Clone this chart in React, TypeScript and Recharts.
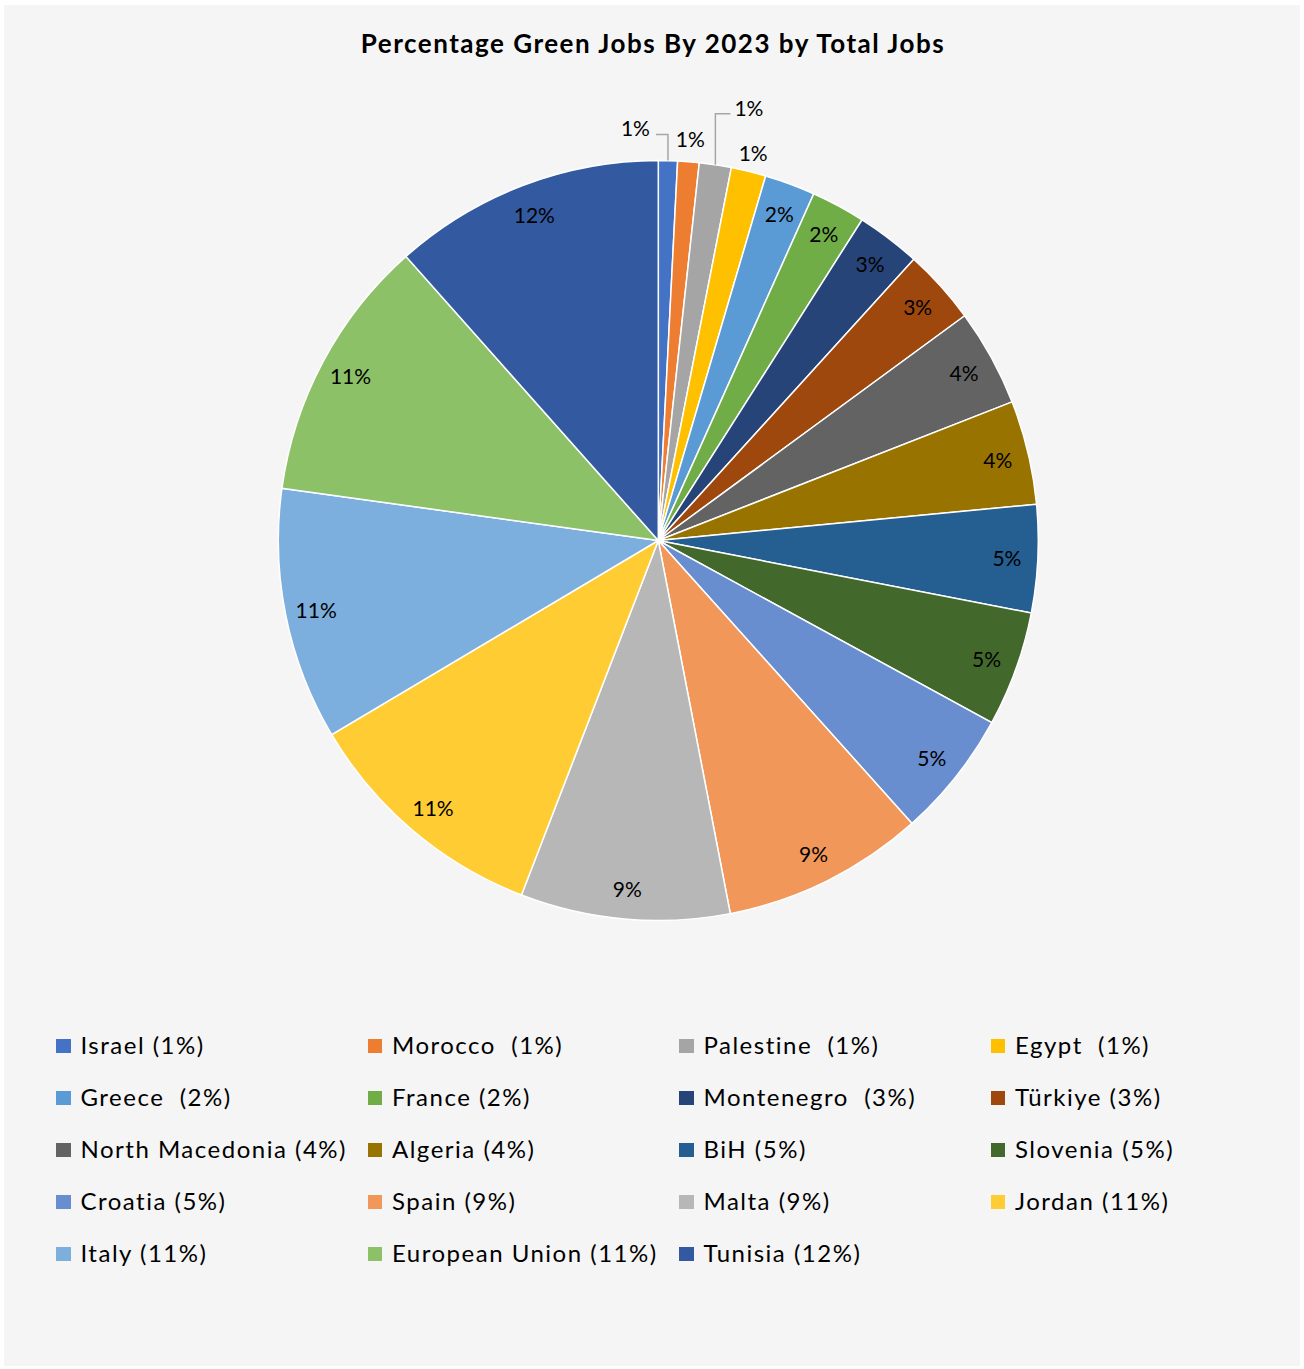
import React from "react";
import { PieChart, Pie, Cell, Legend } from "recharts";

const countries = [
  "Israel", "Morocco", "Palestine", "Egypt", "Greece", "France", "Montenegro", "Türkiye",
  "North Macedonia", "Algeria", "BiH", "Slovenia", "Croatia", "Spain", "Malta", "Jordan",
  "Italy", "European Union", "Tunisia",
];
const legendLabels = [
  "Israel (1%)", "Morocco  (1%)", "Palestine  (1%)", "Egypt  (1%)", "Greece  (2%)", "France (2%)",
  "Montenegro  (3%)", "Türkiye (3%)", "North Macedonia (4%)", "Algeria (4%)", "BiH (5%)",
  "Slovenia (5%)", "Croatia (5%)", "Spain (9%)", "Malta (9%)", "Jordan (11%)", "Italy (11%)",
  "European Union (11%)", "Tunisia (12%)",
];
const shares = [
  0.81, 0.91, 1.36, 1.48, 2.15, 2.3, 2.73, 3.19, 4.13, 4.42, 4.58, 4.9, 5.41, 8.6, 8.9, 10.6,
  10.73, 11.25, 11.56,
];
const colors = [
  "#4472C4", "#ED7D31", "#A5A5A5", "#FFC000", "#5B9BD5", "#70AD47", "#264478", "#9E480E",
  "#636363", "#997300", "#255E91", "#43682B", "#698ED0", "#F1975A", "#B7B7B7", "#FFCD33",
  "#7CAFDD", "#8CC168", "#335AA1",
];

const data = countries.map((name, i) => ({ name, value: shares[i], legend: legendLabels[i] }));

const FONT = "Lato, 'Noto Sans', sans-serif";
const RAD = Math.PI / 180;

const renderLabel = (props: any) => {
  const { cx, cy, midAngle, outerRadius, index, value } = props;
  const text = `${Math.round(value)}%`;
  const cos = Math.cos(-midAngle * RAD);
  const sin = Math.sin(-midAngle * RAD);
  const ex = cx + outerRadius * cos;
  const ey = cy + outerRadius * sin;
  if (index === 0) {
    return (
      <g>
        <polyline points={`${ex},${ey} ${ex},${ey - 26} ${ex - 12},${ey - 26}`} fill="none" stroke="#A6A6A6" strokeWidth={1.5} />
        <text x={ex - 18} y={ey - 33} textAnchor="end" dominantBaseline="central" fontFamily={FONT} fontSize={21} fill="#000">{text}</text>
      </g>
    );
  }
  if (index === 2) {
    return (
      <g>
        <polyline points={`${ex},${ey} ${ex},${ey - 51} ${ex + 15},${ey - 51}`} fill="none" stroke="#A6A6A6" strokeWidth={1.5} />
        <text x={ex + 19} y={ey - 57} textAnchor="start" dominantBaseline="central" fontFamily={FONT} fontSize={21} fill="#000">{text}</text>
      </g>
    );
  }
  let r = outerRadius - 31;
  if (index === 1) r = outerRadius + 23;
  if (index === 3) r = outerRadius + 19;
  const x = cx + r * cos;
  const y = cy + r * sin;
  return (
    <text x={x} y={y} textAnchor="middle" dominantBaseline="central" fontFamily={FONT} fontSize={21} fill="#000">{text}</text>
  );
};

const renderLegend = () => (
  <div
    style={{
      display: "grid",
      gridTemplateColumns: "repeat(4, 311.5px)",
      gridAutoRows: "52px",
      fontFamily: FONT,
      fontSize: 24,
      letterSpacing: 1.5,
      color: "#000",
    }}
  >
    {data.map((d, i) => (
      <div key={d.name} style={{ display: "flex", alignItems: "center", whiteSpace: "pre" }}>
        <span
          style={{
            display: "inline-block",
            width: 14.5,
            height: 14,
            background: colors[i],
            marginRight: 10,
            position: "relative",
            top: 2,
          }}
        />
        <span>{d.legend}</span>
      </div>
    ))}
  </div>
);

export default function App() {
  return (
    <div
      style={{
        position: "absolute",
        left: 4,
        top: 5,
        width: 1296,
        height: 1361,
        background: "#F5F5F5",
      }}
    >
      <div
        style={{
          position: "absolute",
          top: 23,
          left: 0,
          width: 1298,
          textAlign: "center",
          fontFamily: FONT,
          fontWeight: 700,
          fontSize: 26,
          letterSpacing: 1.5,
          lineHeight: 1.2,
          color: "#000",
        }}
      >
        Percentage Green Jobs By 2023 by Total Jobs
      </div>
      <PieChart width={1296} height={1361} style={{ position: "absolute", top: 0, left: 0 }}>
        <Pie
          data={data}
          dataKey="value"
          nameKey="name"
          cx={649.3}
          cy={530.5}
          outerRadius={380}
          startAngle={90}
          endAngle={-270}
          stroke="#FFFFFF"
          strokeWidth={1.5}
          label={renderLabel}
          labelLine={false}
          isAnimationActive={false}
        >
          {data.map((d, i) => (
            <Cell key={d.name} fill={colors[i]} />
          ))}
        </Pie>
        <Legend
          content={renderLegend}
          wrapperStyle={{ position: "absolute", left: 52, top: 1013, width: 1250 }}
        />
      </PieChart>
    </div>
  );
}
